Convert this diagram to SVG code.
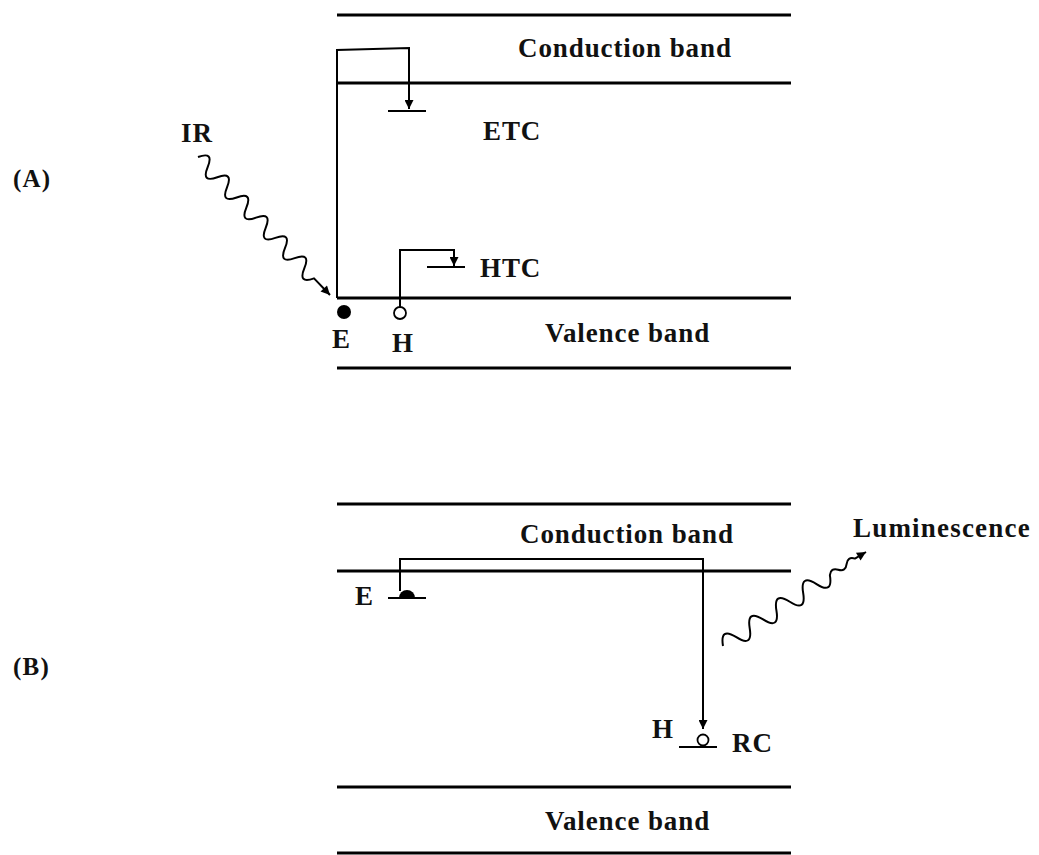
<svg xmlns="http://www.w3.org/2000/svg" width="1039" height="855" viewBox="0 0 1039 855">
<style>
text{font-family:"Liberation Serif","Times New Roman",serif;font-weight:bold;font-size:27px;fill:#111;letter-spacing:0.9px}
.band{stroke:#000;stroke-width:3.2;fill:none}
.lvl{stroke:#000;stroke-width:2.2;fill:none}
.wire{stroke:#000;stroke-width:2;fill:none}
.wave{stroke:#000;stroke-width:2;fill:none;stroke-linejoin:round}
</style>
<defs>
<marker id="ah" viewBox="0 0 10 10" refX="10" refY="5" markerWidth="11" markerHeight="9" markerUnits="userSpaceOnUse" orient="auto">
<path d="M0,0 L10,5 L0,10 Z" fill="#000"/>
</marker>
</defs>
<rect width="1039" height="855" fill="#fff"/>

<g id="panelA-bands">
<line class="band" x1="337" y1="15" x2="791" y2="15"/>
<line class="band" x1="337" y1="83" x2="791" y2="83"/>
<line class="band" x1="337" y1="298" x2="791" y2="298"/>
<line class="band" x1="337" y1="368" x2="791" y2="368"/>
</g>
<g id="panelA-labels">
<text x="13" y="187" style="font-size:25px;letter-spacing:1.2px">(A)</text>
<text x="518" y="57">Conduction band</text>
<text x="545" y="342">Valence band</text>
<text x="483" y="140">ETC</text>
<text x="480" y="277">HTC</text>
<text x="181" y="142">IR</text>
<text x="332" y="348">E</text>
<text x="392" y="352">H</text>
</g>
<g id="panelA-levels">
<line class="lvl" x1="388" y1="111" x2="426" y2="111"/>
<line class="lvl" x1="427" y1="267" x2="465" y2="267"/>
<circle id="A-electron" cx="344" cy="312" r="7" fill="#000"/>
<circle id="A-hole" cx="400" cy="313" r="6" fill="#fff" stroke="#000" stroke-width="1.8"/>
</g>
<g id="connectors">
<path class="wire" d="M337 298 L337 50 L409 48 L409 109" marker-end="url(#ah)"/>
<path class="wire" d="M400 307 L400 250 L454 250 L454 266" marker-end="url(#ah)"/>
<path class="wave" d="M198 157 q 16.39 -6.01 9.67 10.11 t 9.67 10.11 t 9.67 10.11 t 9.67 10.11 t 9.67 10.11 t 9.67 10.11 t 9.67 10.11 t 9.67 10.11 t 9.67 10.11 t 9.67 10.11 t 9.67 10.11 t 9.67 10.11 L330 295" marker-end="url(#ah)"/>
<path class="wire" d="M400 591 L400 559 L703 559 L703 729" marker-end="url(#ah)"/>
<path class="wave" d="M723 646 q -3.27 -19.45 13.36 -8.85 t 13.36 -8.85 t 13.36 -8.85 t 13.36 -8.85 t 13.36 -8.85 t 13.36 -8.85 t 13.36 -8.85 t 13.36 -8.85 q 0.86 -7.78 8.35 -5.53 t 8.35 -5.53 t 8.35 -5.53 L866 552" marker-end="url(#ah)"/>
</g>

<g id="panelB-bands">
<line class="band" x1="337" y1="504" x2="791" y2="504"/>
<line class="band" x1="337" y1="571" x2="791" y2="571"/>
<line class="band" x1="337" y1="787" x2="791" y2="787"/>
<line class="band" x1="337" y1="853" x2="791" y2="853"/>
</g>
<g id="panelB-labels">
<text x="13" y="675" style="font-size:25px;letter-spacing:1.2px">(B)</text>
<text x="520" y="543">Conduction band</text>
<text x="545" y="830">Valence band</text>
<text x="853" y="537" style="letter-spacing:1.2px">Luminescence</text>
<text x="355" y="605">E</text>
<text x="652" y="738">H</text>
<text x="732" y="752">RC</text>
</g>
<g id="panelB-levels">
<path d="M399 598 A 8 8 0 0 1 415 598 Z" fill="#000"/>
<line class="lvl" x1="388" y1="598" x2="426" y2="598"/>
<circle id="B-hole" cx="703" cy="740" r="5.5" fill="#fff" stroke="#000" stroke-width="1.8"/>
<line class="lvl" x1="679" y1="747" x2="717" y2="747"/>
</g>
</svg>
